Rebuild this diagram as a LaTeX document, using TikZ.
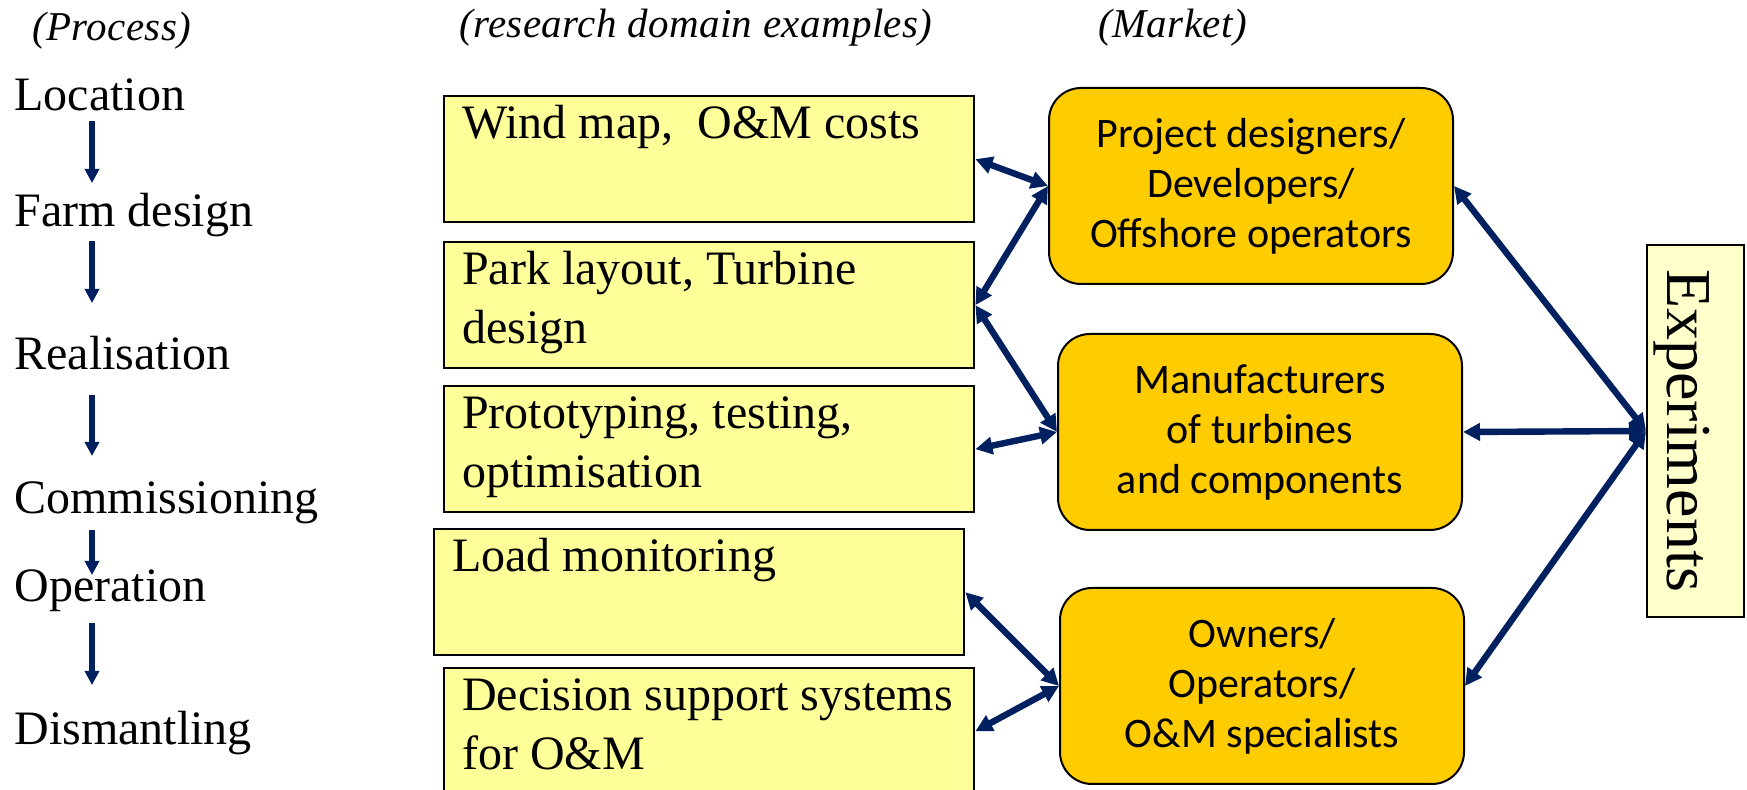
\documentclass[tikz,border=0pt]{standalone}
\usepackage{fontspec}
\usepackage{graphicx}
\setmainfont{Liberation Serif}
\newfontfamily\calibri{Carlito}
\newfontfamily\hdrfont{Liberation Serif}[LetterSpace=1.0]
\usetikzlibrary{arrows.meta}
\definecolor{navy}{HTML}{002060}
\definecolor{paleyellow}{HTML}{FFFF99}
\definecolor{gold}{HTML}{FFCC00}
\definecolor{cream}{HTML}{FFFFCC}
% strut that fixes the first baseline inside the domain boxes
\newcommand\boxstrut{\rule[-7.5pt]{0pt}{22pt}}

\begin{document}
\begin{tikzpicture}[x=0.5pt,y=-0.5pt,
  phase/.style={anchor=base west, inner sep=0pt, font=\fontsize{24}{29}\selectfont},
  header/.style={anchor=base west, inner sep=0pt, font=\hdrfont\itshape\fontsize{20.5}{24}\selectfont},
  domainbox/.style={draw=black, line width=1.2pt, fill=paleyellow, anchor=north west,
    text width=247pt, inner xsep=9pt, inner ysep=2pt, align=flush left,
    minimum height=63pt, font=\fontsize{24}{29.5}\selectfont},
  marketbox/.style={draw=black, line width=1pt, fill=gold, rounded corners=16pt,
    anchor=north west, minimum width=202pt, minimum height=98pt, align=flush center,
    font=\calibri\fontsize{21}{25}\selectfont},
  expbox/.style={draw=black, line width=1pt, fill=cream, minimum width=48.5pt,
    minimum height=186pt, inner sep=0pt, font=\fontsize{32}{38}\selectfont},
  flow/.style={navy, line width=2.6pt, -{Triangle[length=7pt,width=7pt]}},
  link/.style={navy, line width=3.2pt,
    {Triangle[length=8.5pt,width=8.5pt]}-{Triangle[length=8.5pt,width=8.5pt]}},
]
\useasboundingbox (0,0) rectangle (1747,790);

% column headers
\node[header] (hproc) at (32,41) {(Process)};
\node[header] (hdom) at (459,38) {(research domain examples)};
\node[header] (hmkt) at (1098,38) {(Market)};

% process phases
\node[phase] (p1) at (14,111) {Location};
\node[phase] (p2) at (14,227) {Farm design};
\node[phase] (p3) at (14,370) {Realisation};
\node[phase] (p4) at (14,514) {Commissioning};
\node[phase] (p5) at (14,602) {Operation};
\node[phase] (p6) at (14,745) {Dismantling};
\foreach \i/\s/\e in {1/121/183, 2/241/303, 3/395/456, 4/530/575, 5/623/685}{
  \coordinate (f\i s) at (92,\s);
  \coordinate (f\i e) at (92,\e);
  \draw[flow] (f\i s) -- (f\i e);
}

% research domains
\node[domainbox] (b1) at (443,95) {\boxstrut Wind map,\ \ O\&M costs\\\boxstrut};
\node[domainbox] (b2) at (443,241) {\boxstrut Park layout, Turbine\\\boxstrut design};
\node[domainbox] (b3) at (443,385) {\boxstrut Prototyping, testing,\\\boxstrut optimisation};
\node[domainbox] (b4) at (433,528) {\boxstrut Load monitoring\\\boxstrut};
\node[domainbox] (b5) at (443,667) {\boxstrut Decision support systems\\\boxstrut for O\&M};

% market actors
\node[marketbox] (m1) at (1048,87) {Project designers/\\Developers/\\Offshore operators};
\node[marketbox] (m2) at (1057,333) {Manufacturers\\of turbines\\and components};
\node[marketbox] (m3) at (1059,587) {Owners/\\Operators/\\O\&M specialists};

% experiments (text sits a little left of the box centre)
\node[expbox] (exp) at (1695.5,431) {\rotatebox{-90}{Experiments}\hspace*{14pt}};

% links
\draw[link] (b1.east) -- (m1.west);
\draw[link] (b2.east) -- (m1.west);
\draw[link] (b2.east) -- (m2.west);
\draw[link] (b3.east) -- (m2.west);
\draw[link] (b4.east) -- (m3.west);
\draw[link] (b5.east) -- (m3.west);
\draw[link] (m1.east) -- (exp.west);
\draw[link] (m2.east) -- (exp.west);
\draw[link] (m3.east) -- (exp.west);
\end{tikzpicture}
\end{document}
